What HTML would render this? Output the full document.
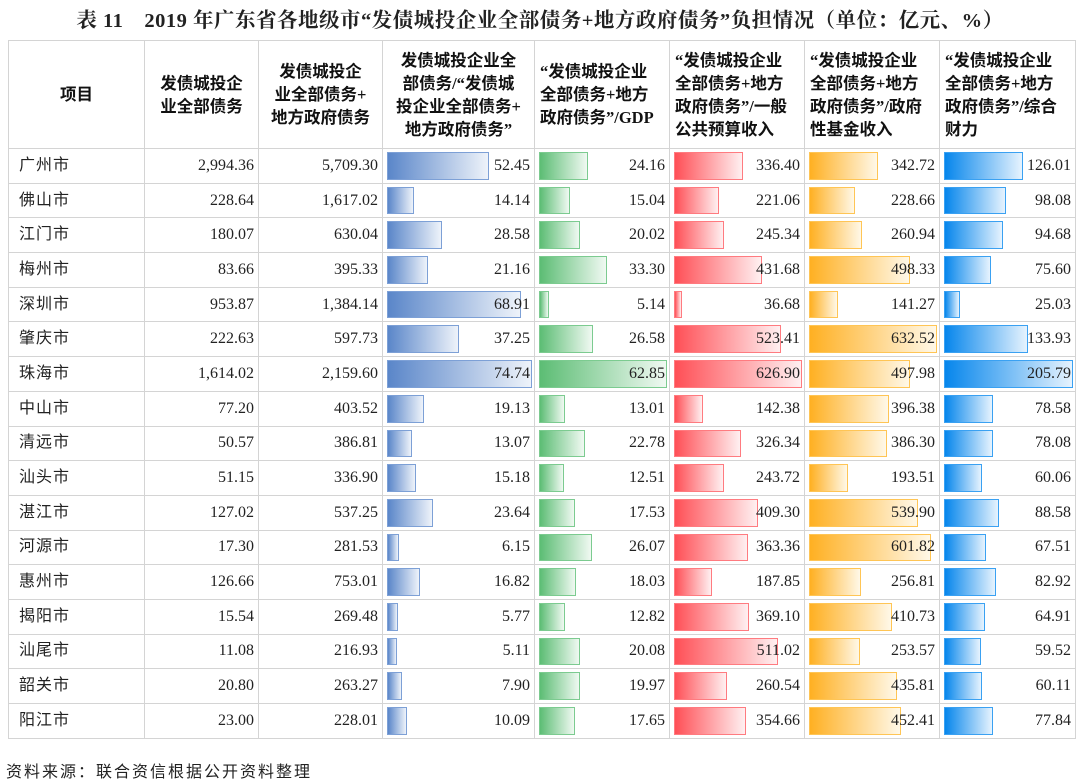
<!DOCTYPE html>
<html><head><meta charset="utf-8"><style>
body{margin:0;width:1080px;height:783px;background:#fff;position:relative;overflow:hidden;font-family:"Liberation Serif","Noto Serif CJK SC",serif;color:#222}
.title{position:absolute;top:3px;left:0;width:1080px;text-align:center;font-size:20.5px;font-weight:bold;font-family:"Liberation Serif","Noto Serif CJK SC",serif;letter-spacing:0.5px;white-space:nowrap}
table{position:absolute;left:8px;top:40px;width:1067px;border-collapse:collapse;table-layout:fixed;border:1.5px solid #a0a0a0}
td,th{border:1px solid #d4d4d4;padding:0 4px;position:relative;vertical-align:middle}
th{height:107px;font-size:16.5px;font-weight:bold;text-align:left;line-height:23px;font-family:"Liberation Serif","Noto Sans CJK SC",sans-serif;padding:0 5px;color:#111}
th.c{text-align:center}
td{height:33.7px;font-size:16px;text-align:right;line-height:20px}
td.n{text-align:left;font-family:"Liberation Sans","Noto Sans CJK SC",sans-serif;font-size:16px;padding-left:10px;letter-spacing:1px}
.w{position:absolute;left:4px;right:2px;top:3px;bottom:3px}
.b{height:100%;box-sizing:border-box;border:1.5px solid}
.b1{background:linear-gradient(90deg,#5a86c9,#eef3fa);border-color:#7da0d6}
.b2{background:linear-gradient(90deg,#5cbd74,#f0f9f2);border-color:#7ccb90}
.b3{background:linear-gradient(90deg,#ff4f56,#fff0f1);border-color:#ff7b80}
.b4{background:linear-gradient(90deg,#ffb022,#fff8e8);border-color:#ffc555}
.b5{background:linear-gradient(90deg,#0686ec,#e6f3fe);border-color:#3aa1f2}
td span{position:relative}
.foot{position:absolute;left:6px;top:758px;font-size:16px;font-family:"Liberation Sans","Noto Sans CJK SC",sans-serif;letter-spacing:2px}
</style></head><body>
<div class="title">表 11　2019 年广东省各地级市“发债城投企业全部债务+地方政府债务”负担情况（单位：亿元、%）</div>
<table>
<colgroup><col style="width:136px"><col style="width:114px"><col style="width:124px"><col style="width:152px"><col style="width:135px"><col style="width:135px"><col style="width:135px"><col style="width:136px"></colgroup>
<tr><th class="c">项目</th><th class="c">发债城投企<br>业全部债务</th><th class="c">发债城投企<br>业全部债务+<br>地方政府债务</th><th class="c">发债城投企业全<br>部债务/“发债城<br>投企业全部债务+<br>地方政府债务”</th><th>“发债城投企业<br>全部债务+地方<br>政府债务”/GDP</th><th>“发债城投企业<br>全部债务+地方<br>政府债务”/一般<br>公共预算收入</th><th>“发债城投企业<br>全部债务+地方<br>政府债务”/政府<br>性基金收入</th><th>“发债城投企业<br>全部债务+地方<br>政府债务”/综合<br>财力</th></tr>
<tr><td class="n">广州市</td><td>2,994.36</td><td>5,709.30</td><td><div class="w"><div class="b b1" style="width:70.2%"></div></div><span>52.45</span></td><td><div class="w"><div class="b b2" style="width:38.4%"></div></div><span>24.16</span></td><td><div class="w"><div class="b b3" style="width:53.7%"></div></div><span>336.40</span></td><td><div class="w"><div class="b b4" style="width:54.2%"></div></div><span>342.72</span></td><td><div class="w"><div class="b b5" style="width:61.2%"></div></div><span>126.01</span></td></tr>
<tr><td class="n">佛山市</td><td>228.64</td><td>1,617.02</td><td><div class="w"><div class="b b1" style="width:18.9%"></div></div><span>14.14</span></td><td><div class="w"><div class="b b2" style="width:23.9%"></div></div><span>15.04</span></td><td><div class="w"><div class="b b3" style="width:35.3%"></div></div><span>221.06</span></td><td><div class="w"><div class="b b4" style="width:36.2%"></div></div><span>228.66</span></td><td><div class="w"><div class="b b5" style="width:47.7%"></div></div><span>98.08</span></td></tr>
<tr><td class="n">江门市</td><td>180.07</td><td>630.04</td><td><div class="w"><div class="b b1" style="width:38.2%"></div></div><span>28.58</span></td><td><div class="w"><div class="b b2" style="width:31.9%"></div></div><span>20.02</span></td><td><div class="w"><div class="b b3" style="width:39.1%"></div></div><span>245.34</span></td><td><div class="w"><div class="b b4" style="width:41.3%"></div></div><span>260.94</span></td><td><div class="w"><div class="b b5" style="width:46%"></div></div><span>94.68</span></td></tr>
<tr><td class="n">梅州市</td><td>83.66</td><td>395.33</td><td><div class="w"><div class="b b1" style="width:28.3%"></div></div><span>21.16</span></td><td><div class="w"><div class="b b2" style="width:53%"></div></div><span>33.30</span></td><td><div class="w"><div class="b b3" style="width:68.9%"></div></div><span>431.68</span></td><td><div class="w"><div class="b b4" style="width:78.8%"></div></div><span>498.33</span></td><td><div class="w"><div class="b b5" style="width:36.7%"></div></div><span>75.60</span></td></tr>
<tr><td class="n">深圳市</td><td>953.87</td><td>1,384.14</td><td><div class="w"><div class="b b1" style="width:92.2%"></div></div><span>68.91</span></td><td><div class="w"><div class="b b2" style="width:8.2%"></div></div><span>5.14</span></td><td><div class="w"><div class="b b3" style="width:5.9%"></div></div><span>36.68</span></td><td><div class="w"><div class="b b4" style="width:22.3%"></div></div><span>141.27</span></td><td><div class="w"><div class="b b5" style="width:12.2%"></div></div><span>25.03</span></td></tr>
<tr><td class="n">肇庆市</td><td>222.63</td><td>597.73</td><td><div class="w"><div class="b b1" style="width:49.8%"></div></div><span>37.25</span></td><td><div class="w"><div class="b b2" style="width:42.3%"></div></div><span>26.58</span></td><td><div class="w"><div class="b b3" style="width:83.5%"></div></div><span>523.41</span></td><td><div class="w"><div class="b b4" style="width:100%"></div></div><span>632.52</span></td><td><div class="w"><div class="b b5" style="width:65.1%"></div></div><span>133.93</span></td></tr>
<tr><td class="n">珠海市</td><td>1,614.02</td><td>2,159.60</td><td><div class="w"><div class="b b1" style="width:100%"></div></div><span>74.74</span></td><td><div class="w"><div class="b b2" style="width:100%"></div></div><span>62.85</span></td><td><div class="w"><div class="b b3" style="width:100%"></div></div><span>626.90</span></td><td><div class="w"><div class="b b4" style="width:78.7%"></div></div><span>497.98</span></td><td><div class="w"><div class="b b5" style="width:100%"></div></div><span>205.79</span></td></tr>
<tr><td class="n">中山市</td><td>77.20</td><td>403.52</td><td><div class="w"><div class="b b1" style="width:25.6%"></div></div><span>19.13</span></td><td><div class="w"><div class="b b2" style="width:20.7%"></div></div><span>13.01</span></td><td><div class="w"><div class="b b3" style="width:22.7%"></div></div><span>142.38</span></td><td><div class="w"><div class="b b4" style="width:62.7%"></div></div><span>396.38</span></td><td><div class="w"><div class="b b5" style="width:38.2%"></div></div><span>78.58</span></td></tr>
<tr><td class="n">清远市</td><td>50.57</td><td>386.81</td><td><div class="w"><div class="b b1" style="width:17.5%"></div></div><span>13.07</span></td><td><div class="w"><div class="b b2" style="width:36.2%"></div></div><span>22.78</span></td><td><div class="w"><div class="b b3" style="width:52.1%"></div></div><span>326.34</span></td><td><div class="w"><div class="b b4" style="width:61.1%"></div></div><span>386.30</span></td><td><div class="w"><div class="b b5" style="width:37.9%"></div></div><span>78.08</span></td></tr>
<tr><td class="n">汕头市</td><td>51.15</td><td>336.90</td><td><div class="w"><div class="b b1" style="width:20.3%"></div></div><span>15.18</span></td><td><div class="w"><div class="b b2" style="width:19.9%"></div></div><span>12.51</span></td><td><div class="w"><div class="b b3" style="width:38.9%"></div></div><span>243.72</span></td><td><div class="w"><div class="b b4" style="width:30.6%"></div></div><span>193.51</span></td><td><div class="w"><div class="b b5" style="width:29.2%"></div></div><span>60.06</span></td></tr>
<tr><td class="n">湛江市</td><td>127.02</td><td>537.25</td><td><div class="w"><div class="b b1" style="width:31.6%"></div></div><span>23.64</span></td><td><div class="w"><div class="b b2" style="width:27.9%"></div></div><span>17.53</span></td><td><div class="w"><div class="b b3" style="width:65.3%"></div></div><span>409.30</span></td><td><div class="w"><div class="b b4" style="width:85.4%"></div></div><span>539.90</span></td><td><div class="w"><div class="b b5" style="width:43%"></div></div><span>88.58</span></td></tr>
<tr><td class="n">河源市</td><td>17.30</td><td>281.53</td><td><div class="w"><div class="b b1" style="width:8.2%"></div></div><span>6.15</span></td><td><div class="w"><div class="b b2" style="width:41.5%"></div></div><span>26.07</span></td><td><div class="w"><div class="b b3" style="width:58%"></div></div><span>363.36</span></td><td><div class="w"><div class="b b4" style="width:95.1%"></div></div><span>601.82</span></td><td><div class="w"><div class="b b5" style="width:32.8%"></div></div><span>67.51</span></td></tr>
<tr><td class="n">惠州市</td><td>126.66</td><td>753.01</td><td><div class="w"><div class="b b1" style="width:22.5%"></div></div><span>16.82</span></td><td><div class="w"><div class="b b2" style="width:28.7%"></div></div><span>18.03</span></td><td><div class="w"><div class="b b3" style="width:30%"></div></div><span>187.85</span></td><td><div class="w"><div class="b b4" style="width:40.6%"></div></div><span>256.81</span></td><td><div class="w"><div class="b b5" style="width:40.3%"></div></div><span>82.92</span></td></tr>
<tr><td class="n">揭阳市</td><td>15.54</td><td>269.48</td><td><div class="w"><div class="b b1" style="width:7.7%"></div></div><span>5.77</span></td><td><div class="w"><div class="b b2" style="width:20.4%"></div></div><span>12.82</span></td><td><div class="w"><div class="b b3" style="width:58.9%"></div></div><span>369.10</span></td><td><div class="w"><div class="b b4" style="width:64.9%"></div></div><span>410.73</span></td><td><div class="w"><div class="b b5" style="width:31.5%"></div></div><span>64.91</span></td></tr>
<tr><td class="n">汕尾市</td><td>11.08</td><td>216.93</td><td><div class="w"><div class="b b1" style="width:6.8%"></div></div><span>5.11</span></td><td><div class="w"><div class="b b2" style="width:31.9%"></div></div><span>20.08</span></td><td><div class="w"><div class="b b3" style="width:81.5%"></div></div><span>511.02</span></td><td><div class="w"><div class="b b4" style="width:40.1%"></div></div><span>253.57</span></td><td><div class="w"><div class="b b5" style="width:28.9%"></div></div><span>59.52</span></td></tr>
<tr><td class="n">韶关市</td><td>20.80</td><td>263.27</td><td><div class="w"><div class="b b1" style="width:10.6%"></div></div><span>7.90</span></td><td><div class="w"><div class="b b2" style="width:31.8%"></div></div><span>19.97</span></td><td><div class="w"><div class="b b3" style="width:41.6%"></div></div><span>260.54</span></td><td><div class="w"><div class="b b4" style="width:68.9%"></div></div><span>435.81</span></td><td><div class="w"><div class="b b5" style="width:29.2%"></div></div><span>60.11</span></td></tr>
<tr><td class="n">阳江市</td><td>23.00</td><td>228.01</td><td><div class="w"><div class="b b1" style="width:13.5%"></div></div><span>10.09</span></td><td><div class="w"><div class="b b2" style="width:28.1%"></div></div><span>17.65</span></td><td><div class="w"><div class="b b3" style="width:56.6%"></div></div><span>354.66</span></td><td><div class="w"><div class="b b4" style="width:71.5%"></div></div><span>452.41</span></td><td><div class="w"><div class="b b5" style="width:37.8%"></div></div><span>77.84</span></td></tr>
</table>
<div class="foot">资料来源：联合资信根据公开资料整理</div>
</body></html>
